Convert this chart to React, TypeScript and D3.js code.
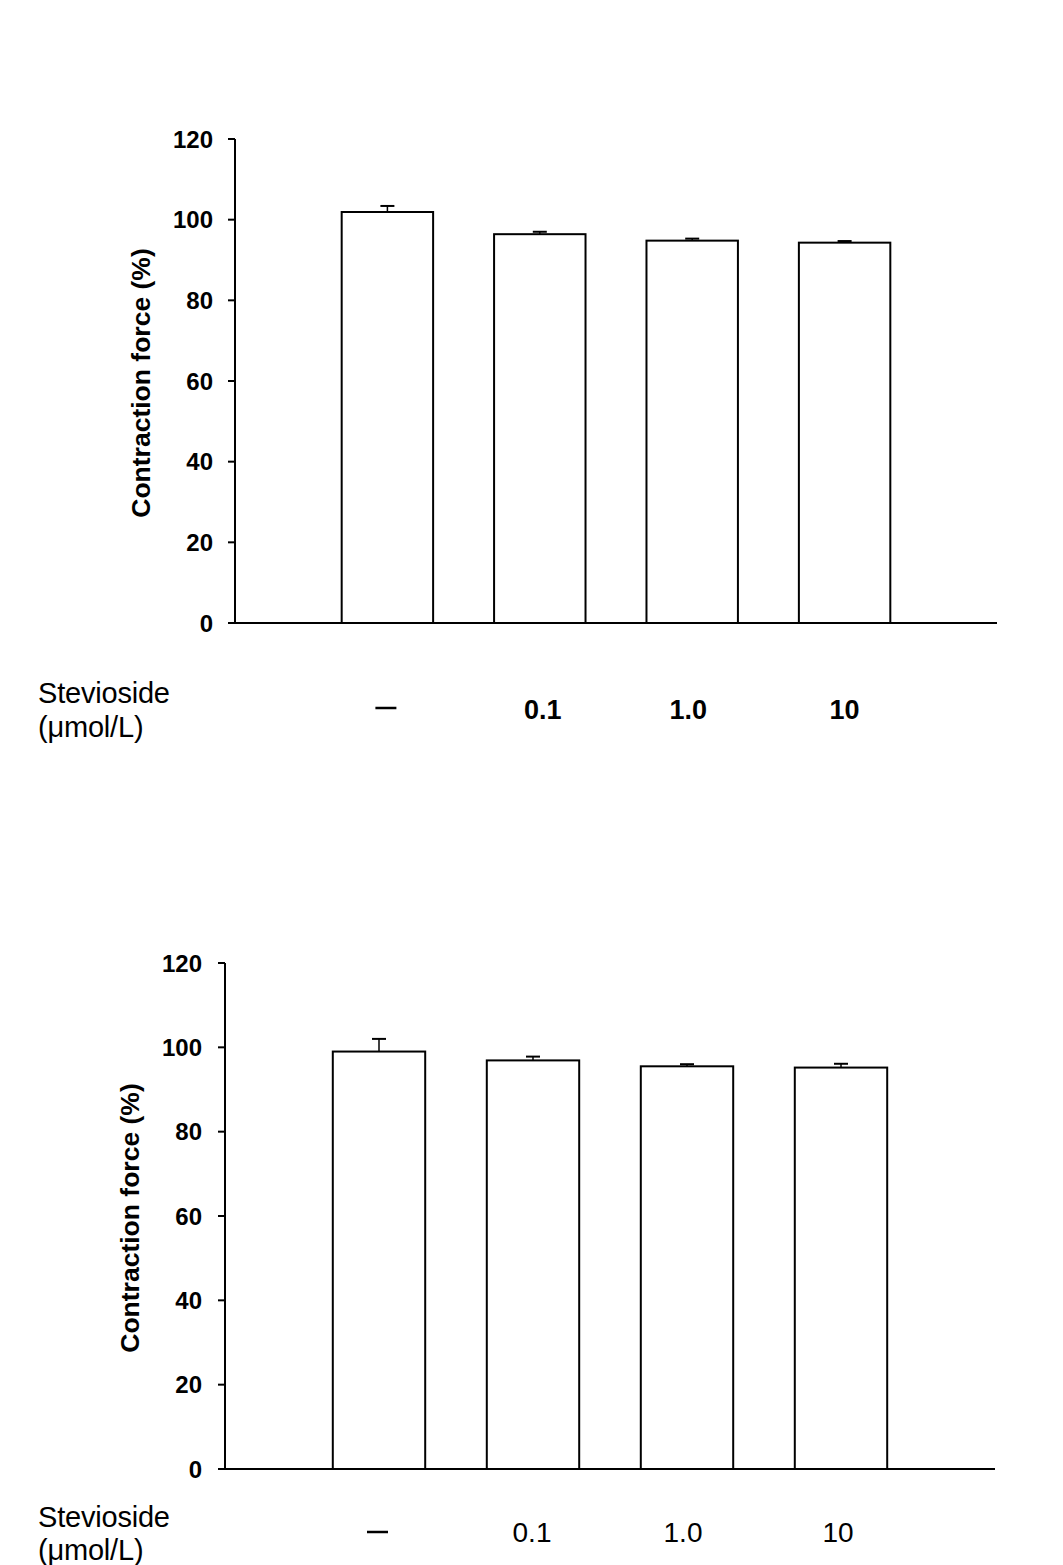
import { useEffect, useRef } from "react";
import * as d3 from "d3";

// Doses of stevioside (category labels)
const doses = ["—", "0.1", "1.0", "10"];
const yTicks = [0, 20, 40, 60, 80, 100, 120];

// Upper panel
const topMeans = [101.9, 96.4, 94.8, 94.3];
const topErrors = [1.5, 0.6, 0.5, 0.4];

// Lower panel
const bottomMeans = [99.0, 96.9, 95.5, 95.2];
const bottomErrors = [3.0, 0.9, 0.5, 0.9];

const FONT = "'Liberation Sans', Arial, sans-serif";

interface PanelLayout {
  left: number;
  right: number;
  top: number;
  bottom: number;
  titleX: number;
  tickGap: number;
  labelBaseline: number;
  labelWeight: string;
  labelSize: number;
  labelShift: number[];
  dashY: number;
  stevY: number;
  unitY: number;
}

function drawPanel(
  svg: d3.Selection<SVGSVGElement, unknown, null, undefined>,
  means: number[],
  errors: number[],
  p: PanelLayout
) {
  const g = svg.append("g");

  const y = d3.scaleLinear().domain([0, 120]).range([p.bottom, p.top]);
  const x = d3
    .scaleBand<string>()
    .domain(doses)
    .range([p.left, p.right])
    .paddingInner(0)
    .paddingOuter(0.5);
  const barW = x.step() * 0.6;

  // Y axis
  g.append("line")
    .attr("x1", p.left)
    .attr("x2", p.left)
    .attr("y1", y(120))
    .attr("y2", y(0))
    .attr("stroke", "#000")
    .attr("stroke-width", 2);

  yTicks.forEach((t) => {
    g.append("line")
      .attr("x1", p.left - 7)
      .attr("x2", p.left)
      .attr("y1", y(t))
      .attr("y2", y(t))
      .attr("stroke", "#000")
      .attr("stroke-width", 2);
    g.append("text")
      .attr("x", p.left - p.tickGap)
      .attr("y", y(t))
      .attr("dy", "0.36em")
      .attr("text-anchor", "end")
      .attr("font-family", FONT)
      .attr("font-weight", "bold")
      .attr("font-size", 24)
      .text(t);
  });

  // Bars
  doses.forEach((d, i) => {
    const cx = (x(d) ?? 0) + x.bandwidth() / 2;
    g.append("rect")
      .attr("x", cx - barW / 2)
      .attr("y", y(means[i]))
      .attr("width", barW)
      .attr("height", y(0) - y(means[i]))
      .attr("fill", "#fff")
      .attr("stroke", "#000")
      .attr("stroke-width", 2);

    // Upper error whisker
    const yt = y(means[i] + errors[i]);
    g.append("line")
      .attr("x1", cx)
      .attr("x2", cx)
      .attr("y1", y(means[i]))
      .attr("y2", yt)
      .attr("stroke", "#000")
      .attr("stroke-width", 1.5);
    g.append("line")
      .attr("x1", cx - 7)
      .attr("x2", cx + 7)
      .attr("y1", yt)
      .attr("y2", yt)
      .attr("stroke", "#000")
      .attr("stroke-width", 2);

    // Category label
    if (i === 0) {
      g.append("line")
        .attr("x1", cx - 12)
        .attr("x2", cx + 9)
        .attr("y1", p.dashY)
        .attr("y2", p.dashY)
        .attr("stroke", "#000")
        .attr("stroke-width", 2.5);
    } else {
      g.append("text")
        .attr("x", cx + p.labelShift[i])
        .attr("y", p.labelBaseline)
        .attr("text-anchor", "middle")
        .attr("font-family", FONT)
        .attr("font-weight", p.labelWeight)
        .attr("font-size", p.labelSize)
        .text(d);
    }
  });

  // X axis (drawn last so it sits over bar bottoms)
  g.append("line")
    .attr("x1", p.left)
    .attr("x2", p.right)
    .attr("y1", y(0))
    .attr("y2", y(0))
    .attr("stroke", "#000")
    .attr("stroke-width", 2);

  // Y title
  g.append("text")
    .attr("transform", `translate(${p.titleX},${(y(0) + y(120)) / 2 + 2}) rotate(-90)`)
    .attr("text-anchor", "middle")
    .attr("font-family", FONT)
    .attr("font-weight", "bold")
    .attr("font-size", 26.5)
    .text("Contraction force (%)");

  // Row label
  g.append("text")
    .attr("x", 38)
    .attr("y", p.stevY)
    .attr("font-family", FONT)
    .attr("font-size", 29)
    .attr("letter-spacing", -0.2)
    .text("Stevioside");
  g.append("text")
    .attr("x", 38)
    .attr("y", p.unitY)
    .attr("font-family", FONT)
    .attr("font-size", 29)
    .attr("letter-spacing", -0.2)
    .text("(μmol/L)");
}

export default function App() {
  const svgRef = useRef<SVGSVGElement>(null);

  useEffect(() => {
    if (!svgRef.current) return;
    const svg = d3.select(svgRef.current);
    svg.selectAll("*").remove();

    svg.append("rect").attr("width", 1063).attr("height", 1565).attr("fill", "#fff");

    drawPanel(svg, topMeans, topErrors, {
      left: 235,
      right: 997,
      top: 139,
      bottom: 623,
      titleX: 150,
      tickGap: 22,
      labelBaseline: 719,
      labelWeight: "bold",
      labelSize: 27,
      labelShift: [0, 3, -4, 0],
      dashY: 708,
      stevY: 703,
      unitY: 737,
    });

    drawPanel(svg, bottomMeans, bottomErrors, {
      left: 225,
      right: 995,
      top: 963,
      bottom: 1469,
      titleX: 139,
      tickGap: 23,
      labelBaseline: 1542,
      labelWeight: "normal",
      labelSize: 28,
      labelShift: [0, -1, -4, -3],
      dashY: 1532,
      stevY: 1527,
      unitY: 1560,
    });
  }, []);

  return (
    <svg
      ref={svgRef}
      width={1063}
      height={1565}
      viewBox="0 0 1063 1565"
      style={{ position: "absolute", left: 0, top: 0 }}
    />
  );
}
